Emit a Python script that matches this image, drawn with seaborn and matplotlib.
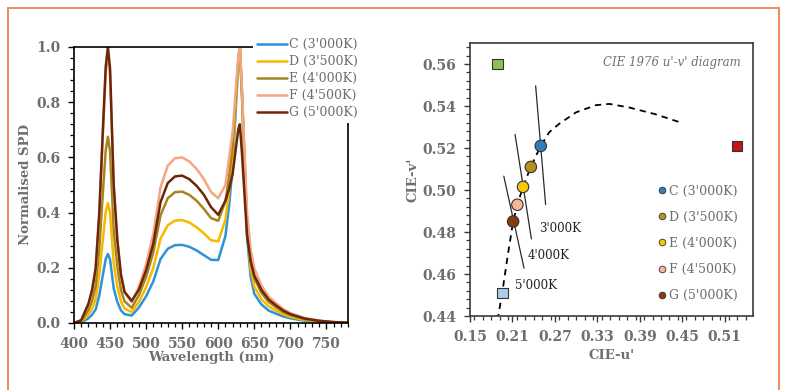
import numpy as np
import pandas as pd
import matplotlib
matplotlib.use("Agg")
import matplotlib.pyplot as plt
import seaborn as sns
from matplotlib.patches import Rectangle
from matplotlib.lines import Line2D
from matplotlib.ticker import MultipleLocator, FormatStrFormatter

# ---------------- data: spectra ----------------
wavelength = [400, 410, 420, 425, 430, 435, 440, 444, 447, 450, 455, 460, 465, 470, 480, 490,
              500, 510, 520, 530, 540, 550, 560, 570, 580, 590, 600, 610, 615, 620, 625, 628,
              630, 633, 636, 640, 645, 650, 660, 670, 680, 690, 700, 720, 740, 760, 780]

spd_C = [0.0, 0.002, 0.017, 0.030, 0.049, 0.099, 0.174, 0.232, 0.250, 0.230, 0.126, 0.077, 0.046, 0.032, 0.027, 0.056,
         0.097, 0.151, 0.232, 0.269, 0.282, 0.283, 0.276, 0.263, 0.246, 0.229, 0.228, 0.315, 0.424, 0.564, 0.805, 0.948,
         1.0, 0.819, 0.596, 0.311, 0.168, 0.106, 0.067, 0.045, 0.034, 0.024, 0.017, 0.0085, 0.0042, 0.0017, 0.0006]
spd_D = [0.0, 0.004, 0.030, 0.052, 0.086, 0.172, 0.303, 0.403, 0.434, 0.399, 0.219, 0.133, 0.079, 0.052, 0.040, 0.076,
         0.130, 0.200, 0.306, 0.354, 0.371, 0.373, 0.364, 0.347, 0.325, 0.300, 0.296, 0.374, 0.473, 0.601, 0.823, 0.954,
         1.0, 0.826, 0.612, 0.336, 0.196, 0.132, 0.086, 0.060, 0.045, 0.032, 0.022, 0.011, 0.0056, 0.0022, 0.0007]
spd_E = [0.0, 0.007, 0.047, 0.080, 0.134, 0.268, 0.471, 0.627, 0.675, 0.621, 0.340, 0.206, 0.121, 0.079, 0.055, 0.101,
         0.167, 0.256, 0.390, 0.452, 0.474, 0.476, 0.464, 0.443, 0.414, 0.380, 0.370, 0.442, 0.529, 0.643, 0.843, 0.961,
         1.0, 0.833, 0.629, 0.366, 0.228, 0.162, 0.109, 0.076, 0.057, 0.040, 0.029, 0.014, 0.007, 0.003, 0.001]
spd_F = [0.0, 0.010, 0.068, 0.116, 0.194, 0.388, 0.682, 0.907, 0.976, 0.898, 0.491, 0.297, 0.174, 0.112, 0.075, 0.131,
         0.213, 0.323, 0.492, 0.570, 0.597, 0.600, 0.585, 0.558, 0.522, 0.475, 0.452, 0.500, 0.597, 0.693, 0.867, 0.969,
         1.0, 0.842, 0.649, 0.401, 0.266, 0.198, 0.136, 0.096, 0.072, 0.051, 0.036, 0.018, 0.009, 0.0036, 0.0012]
spd_G = [0.0, 0.010, 0.070, 0.119, 0.199, 0.398, 0.699, 0.930, 1.0, 0.921, 0.503, 0.304, 0.177, 0.113, 0.080, 0.121,
         0.191, 0.288, 0.438, 0.507, 0.531, 0.534, 0.521, 0.497, 0.465, 0.420, 0.392, 0.443, 0.485, 0.540, 0.644, 0.704,
         0.720, 0.613, 0.484, 0.318, 0.223, 0.172, 0.120, 0.085, 0.064, 0.045, 0.032, 0.016, 0.008, 0.0032, 0.0011]

series_labels = ["C (3'000K)", "D (3'500K)", "E (4'000K)", "F (4'500K)", "G (5'000K)"]
line_colors = ["#2b93d6", "#f6b800", "#a5861c", "#f4a582", "#6e2608"]

# ---------------- data: CIE u'v' ----------------
point_u = [0.250, 0.236, 0.225, 0.217, 0.211]
point_v = [0.521, 0.511, 0.5015, 0.493, 0.485]
point_colors = ["#2f7fbf", "#b8911c", "#f8c700", "#f6b896", "#8a3a10"]

square_u = [0.189, 0.527, 0.196]
square_v = [0.560, 0.521, 0.451]
square_colors = ["#8dc152", "#c4151c", "#a9cdeb"]

locus_u = [0.189, 0.196, 0.203, 0.211, 0.217, 0.225, 0.236, 0.250, 0.262, 0.276, 0.300, 0.328, 0.347, 0.375, 0.412, 0.449]
locus_v = [0.438, 0.452, 0.468, 0.485, 0.493, 0.5015, 0.511, 0.521, 0.5275, 0.5315, 0.537, 0.5404, 0.541, 0.5393, 0.5361, 0.532]

iso_u = [[0.2428, 0.2569], [0.2137, 0.2368], [0.1978, 0.2264]]
iso_v = [[0.5496, 0.4931], [0.5265, 0.4767], [0.5066, 0.4628]]
iso_labels = ["3'000K", "4'000K", "5'000K"]
iso_label_u = [0.2484, 0.2320, 0.2137]
iso_label_v = [0.4819, 0.4687, 0.4543]

# ---------------- style ----------------
sns.set_theme(style="ticks")
plt.rcParams["font.family"] = ["DejaVu Serif"]
plt.rcParams["axes.facecolor"] = "white"
plt.rcParams["figure.facecolor"] = "white"

tick_gray = "#6e6e6e"
fig = plt.figure(figsize=(7.85, 3.9), dpi=100)

# ---------------- left panel ----------------
ax1 = fig.add_axes([0.0943, 0.1718, 0.349, 0.7077])
frames = []
for lab, vals in zip(series_labels, [spd_C, spd_D, spd_E, spd_F, spd_G]):
    frames.append(pd.DataFrame({"Wavelength": wavelength, "SPD": vals, "Series": lab}))
df = pd.concat(frames, ignore_index=True)
sns.lineplot(data=df, x="Wavelength", y="SPD", hue="Series", palette=line_colors,
             hue_order=series_labels, ax=ax1, linewidth=1.8, sort=False)
ax1.set_xlim(400, 780)
ax1.set_ylim(0, 1.0)
ax1.xaxis.set_major_locator(MultipleLocator(50))
ax1.xaxis.set_minor_locator(MultipleLocator(10))
ax1.yaxis.set_major_locator(MultipleLocator(0.2))
ax1.yaxis.set_minor_locator(MultipleLocator(0.04))
ax1.yaxis.set_major_formatter(FormatStrFormatter("%.1f"))
ax1.set_xticks([400, 450, 500, 550, 600, 650, 700, 750])
ax1.set_xlabel("Wavelength (nm)", fontsize=9.5, fontweight="bold", color=tick_gray, labelpad=0)
ax1.set_ylabel("Normalised SPD", fontsize=9.5, fontweight="bold", color=tick_gray, labelpad=3)
for sp in ax1.spines.values():
    sp.set_color("black")
    sp.set_linewidth(1.2)
ax1.tick_params(which="major", direction="out", length=4, width=1, colors="black",
                labelcolor=tick_gray, labelsize=10, pad=6)
ax1.tick_params(which="minor", direction="out", length=3, width=0.9, colors="black")
for t in ax1.get_xticklabels() + ax1.get_yticklabels():
    t.set_fontweight("bold")
h, l = ax1.get_legend_handles_labels()
leg1 = ax1.legend(h, l, loc="upper left", bbox_to_anchor=(0.655, 1.045), frameon=True,
                  facecolor="white", edgecolor="none", framealpha=1.0, fontsize=9,
                  handlelength=2.4, handletextpad=0.15, labelspacing=0.32, borderpad=0.3,
                  borderaxespad=0.0)
for t in leg1.get_texts():
    t.set_color(tick_gray)
for lh in leg1.get_lines():
    lh.set_linewidth(1.8)

# ---------------- right panel ----------------
ax2 = fig.add_axes([0.5987, 0.1897, 0.3605, 0.70])
sns.lineplot(x=locus_u, y=locus_v, ax=ax2, color="black", linewidth=1.3, sort=False,
             linestyle=(0, (3.5, 2.8)), zorder=2)
for uu, vv in zip(iso_u, iso_v):
    sns.lineplot(x=uu, y=vv, ax=ax2, color="#2a2a2a", linewidth=0.9, sort=False, zorder=2)
sns.scatterplot(x=square_u, y=square_v, ax=ax2, marker="s", s=55, c=square_colors,
                edgecolor="#333333", linewidth=0.8, zorder=3)
sns.scatterplot(x=point_u, y=point_v, ax=ax2, marker="o", s=68, c=point_colors,
                edgecolor="#333333", linewidth=0.8, zorder=4)
for lab, uu, vv in zip(iso_labels, iso_label_u, iso_label_v):
    ax2.text(uu, vv, lab, fontsize=8.5, color="#222222", ha="left", va="center")
ax2.text(0.957, 0.93, "CIE 1976 u'-v' diagram", transform=ax2.transAxes, ha="right", va="center",
         fontsize=8.5, style="italic", color="#707070")
ax2.set_xlim(0.15, 0.55)
ax2.set_ylim(0.44, 0.57)
ax2.xaxis.set_major_locator(MultipleLocator(0.06))
ax2.xaxis.set_minor_locator(MultipleLocator(0.012))
ax2.yaxis.set_major_locator(MultipleLocator(0.02))
ax2.yaxis.set_minor_locator(MultipleLocator(0.004))
ax2.set_xticks([0.15, 0.21, 0.27, 0.33, 0.39, 0.45, 0.51])
ax2.xaxis.set_major_formatter(FormatStrFormatter("%.2f"))
ax2.yaxis.set_major_formatter(FormatStrFormatter("%.2f"))
ax2.set_xlabel("CIE-u'", fontsize=9.5, fontweight="bold", color=tick_gray, labelpad=4)
ax2.set_ylabel("CIE-v'", fontsize=9.5, fontweight="bold", color=tick_gray, labelpad=2)
for sp in ax2.spines.values():
    sp.set_color("#3a3a3a")
    sp.set_linewidth(1.2)
ax2.tick_params(which="major", direction="out", length=4, width=1, colors="#3a3a3a",
                labelcolor=tick_gray, labelsize=10, pad=6)
ax2.tick_params(which="minor", direction="out", length=3, width=0.9, colors="#3a3a3a")
for t in ax2.get_xticklabels() + ax2.get_yticklabels():
    t.set_fontweight("bold")
handles2 = [Line2D([], [], marker="o", linestyle="none", markersize=4.8, markerfacecolor=c,
                   markeredgecolor="#333333", markeredgewidth=0.6) for c in point_colors]
leg2 = ax2.legend(handles2, series_labels, loc="upper left", bbox_to_anchor=(0.64, 0.50),
                  frameon=False, fontsize=9, handletextpad=0.05, labelspacing=1.05,
                  handlelength=1.0, borderaxespad=0.0)
for t in leg2.get_texts():
    t.set_color(tick_gray)

# ---------------- frame ----------------
fig.add_artist(Rectangle((8 / 785, -0.05), (779 - 8) / 785, 1.0 - 8 / 390 + 0.05,
                         transform=fig.transFigure, fill=False, edgecolor="#f2895c", linewidth=1.4))

fig.savefig("out.png", dpi=100)
